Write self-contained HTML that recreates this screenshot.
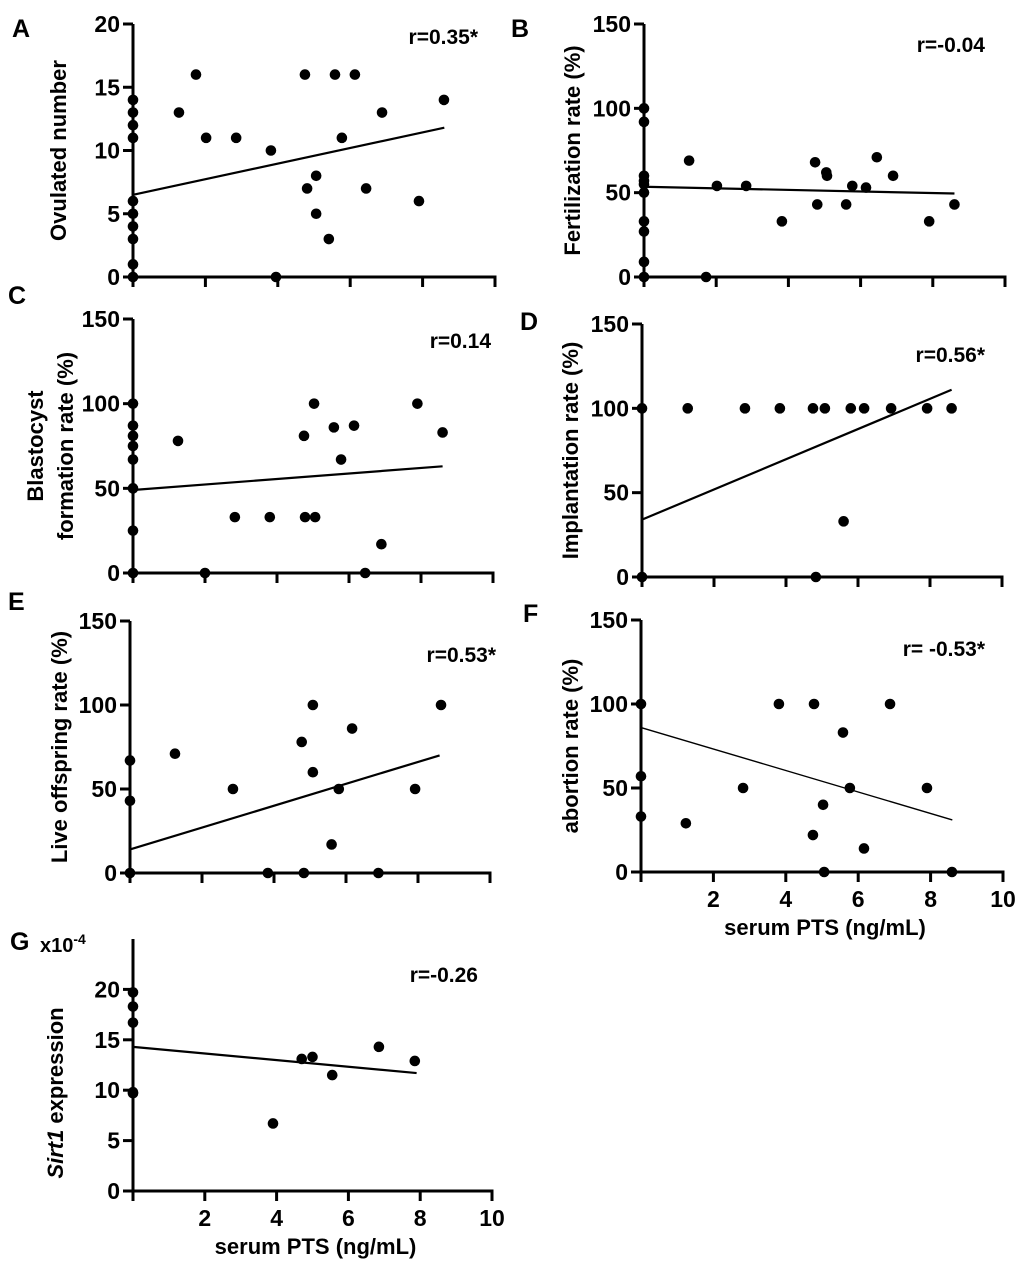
<!DOCTYPE html>
<html><head><meta charset="utf-8"><style>
html,body{margin:0;padding:0;background:#fff;}
svg{display:block;font-family:"Liberation Sans",Arial,sans-serif;font-weight:bold;}
</style></head><body>
<svg id="fig" width="1020" height="1265" viewBox="0 0 1020 1265"></svg>
<script>
// Panel A
const aX=[0,0,0,0,0,0,0,0,0,0,1.27,1.74,2.02,2.85,3.81,3.95,4.75,4.81,5.06,5.06,5.41,5.58,5.77,6.13,6.44,6.88,7.9,8.59];
const aY=[14,13,12,11,6,5,4,3,1,0,13,16,11,11,10,0,16,7,8,5,3,16,11,16,7,13,6,14];
const aFit=[0,6.5,8.6,11.8];
const aTicks=[0,5,10,15,20];
// Panel B
const bX=[0,0,0,0,0,0,0,0,0,0,1.25,1.72,2.02,2.83,3.82,4.74,4.8,5.05,5.07,5.6,5.77,6.15,6.45,6.9,7.9,8.6];
const bY=[100,92,60,57,55,50,33,27,9,0,69,0,54,54,33,68,43,62,60,43,54,53,71,60,33,43];
const bFit=[0,53.5,8.6,49.5];
const pctTicks=[0,50,100,150];
// Panel C
const cX=[0,0,0,0,0,0,0,0,1.25,2.0,2.83,3.8,4.75,4.78,5.03,5.06,5.58,5.78,6.14,6.45,6.9,7.9,8.6];
const cY=[100,87,81,75,67,50,25,0,78,0,33,33,81,33,100,33,86,67,87,0,17,100,83];
const cFit=[0,49,8.6,63];
// Panel D
const dX=[0,0,1.27,2.86,3.83,4.75,5.08,5.8,6.17,6.92,7.92,8.6,4.83,5.6];
const dY=[100,0,100,100,100,100,100,100,100,100,100,100,0,33];
const dFit=[0,34,8.6,111];
// Panel E
const eX=[0,0,0,1.25,2.86,3.83,4.77,4.83,5.08,5.08,5.6,5.8,6.17,6.9,7.92,8.64];
const eY=[67,43,0,71,50,0,78,0,100,60,17,50,86,0,50,100];
const eFit=[0,14,8.6,70];
// Panel F
const fX=[0,0,0,1.24,2.82,3.81,4.78,4.75,5.03,5.06,5.58,5.77,6.16,6.88,7.9,8.59];
const fY=[100,57,33,29,50,100,100,22,40,0,83,50,14,100,50,0];
const fFit=[0,86,8.6,31];
// Panel G
const gX=[0,0,0,0,0,3.9,4.7,5.0,5.55,6.85,7.85];
const gY=[19.7,18.3,16.7,9.8,9.7,6.7,13.1,13.3,11.5,14.3,12.9];
const gFit=[0,14.3,7.9,11.7];
const gTicks=[0,5,10,15,20];
const xTickVals=[0,2,4,6,8,10];
const xTickLabels=["","2","4","6","8","10"];

const NS="http://www.w3.org/2000/svg";
const svg=document.getElementById('fig');
function mk(tag,attrs,parent){const e=document.createElementNS(NS,tag);for(const k in attrs)e.setAttribute(k,attrs[k]);(parent||svg).appendChild(e);return e;}

function panel(p){
  const g=mk('g',{});
  
  
  const sx=v=>p.x0+(v/10)*(p.x10-p.x0);
  const sy=v=>p.y0-(v/p.ymax)*(p.y0-p.ytop);
  const lt=mk('text',{x:p.lx,y:p.ly,'font-size':25},g);lt.textContent=p.id;
  
  
  const ya=mk('line',{x1:p.x0,y1:p.ytop,x2:p.x0,y2:p.y0+9,stroke:'#000','stroke-width':3},g);
  
  
  const xa=mk('line',{x1:p.x0,y1:p.y0,x2:sx(10)+1.5,y2:p.y0,stroke:'#000','stroke-width':3},g);
  
  
  p.yt.forEach(v=>{
    mk('line',{x1:p.x0-10,y1:sy(v),x2:p.x0,y2:sy(v),stroke:'#000','stroke-width':3},g);
    const t=mk('text',{x:p.x0-13,y:sy(v)+8,'font-size':23,'text-anchor':'end'},g);t.textContent=v;
    
    
  });
  xTickVals.forEach((v,i)=>{
    mk('line',{x1:sx(v),y1:p.y0,x2:sx(v),y2:p.y0+10,stroke:'#000','stroke-width':3},g);
    if(p.xlabels){const t=mk('text',{x:sx(v),y:p.y0+35,'font-size':23,'text-anchor':'middle'},g);t.textContent=xTickLabels[i];
      
      }
  });
  if(p.xlabels){const t=mk('text',{x:(p.x0+sx(10))/2+3,y:p.y0+63,'font-size':22,'text-anchor':'middle'},g);t.textContent='serum PTS (ng/mL)';
    
    }
  p.ytitle.forEach((s,i)=>{
    const cx=p.ytx+i*30, cy=(p.ytop+p.y0)/2+p.ytoff;
    const t=mk('text',{x:cx,y:cy,'font-size':22,'text-anchor':'middle',transform:`rotate(-90 ${cx} ${cy})`},g);
    if(p.italic){const ts=mk('tspan',{'font-style':'italic'},t);ts.textContent='Sirt1';const t2=mk('tspan',{},t);t2.textContent=' expression';}
    else t.textContent=s;
    
    
  });
  const fl=mk('line',{x1:sx(p.fit[0]),y1:sy(p.fit[1]),x2:sx(p.fit[2]),y2:sy(p.fit[3]),stroke:'#000','stroke-width':p.fw},g);
  
  
  p.xs.forEach((x,i)=>{
    const c=mk('circle',{cx:sx(x),cy:sy(p.ys[i]),r:5.3,fill:'#000'},g);
    
    
  });
  const r=mk('text',{x:p.rx,y:p.ry,'font-size':21,'text-anchor':'end'},g);r.textContent=p.r;
  
  
  if(p.exp){const e=mk('text',{x:40,y:952,'font-size':20},g);e.textContent='x10';const s=mk('tspan',{dy:-8,'font-size':14},e);s.textContent='-4';
    
    }
}

panel({id:'A',lx:12,ly:37,x0:133,x10:495,y0:277,ytop:24,ymax:20,yt:aTicks,xs:aX,ys:aY,fit:aFit,fw:2.2,r:'r=0.35*',rx:478,ry:44,ytitle:['Ovulated number'],ytx:66,ytoff:0});
panel({id:'B',lx:511,ly:37,x0:644,x10:1005,y0:277,ytop:24,ymax:150,yt:pctTicks,xs:bX,ys:bY,fit:bFit,fw:2.2,r:'r=-0.04',rx:985,ry:52,ytitle:['Fertilization rate (%)'],ytx:580,ytoff:0});
panel({id:'C',lx:8,ly:304,x0:133,x10:493,y0:573,ytop:319,ymax:150,yt:pctTicks,xs:cX,ys:cY,fit:cFit,fw:2.2,r:'r=0.14',rx:491,ry:348,ytitle:['Blastocyst','formation rate (%)'],ytx:43,ytoff:0});
panel({id:'D',lx:520,ly:330,x0:642,x10:1002,y0:577,ytop:324,ymax:150,yt:pctTicks,xs:dX,ys:dY,fit:dFit,fw:2.2,r:'r=0.56*',rx:985,ry:362,ytitle:['Implantation rate (%)'],ytx:578,ytoff:0});
panel({id:'E',lx:8,ly:610,x0:130,x10:490,y0:873,ytop:621,ymax:150,yt:pctTicks,xs:eX,ys:eY,fit:eFit,fw:2.2,r:'r=0.53*',rx:496,ry:662,ytitle:['Live offspring rate (%)'],ytx:67,ytoff:0});
panel({id:'F',lx:523,ly:622,x0:641,x10:1003,y0:872,ytop:620,ymax:150,yt:pctTicks,xs:fX,ys:fY,fit:fFit,fw:1.4,r:'r= -0.53*',rx:985,ry:656,ytitle:['abortion rate (%)'],ytx:578,ytoff:0,xlabels:true});
panel({id:'G',lx:10,ly:950,x0:133,x10:492,y0:1191,ytop:939,ymax:25,yt:gTicks,xs:gX,ys:gY,fit:gFit,fw:2.2,r:'r=-0.26',rx:478,ry:982,ytitle:['Sirt1 expression'],ytx:63,ytoff:28,italic:true,xlabels:true,exp:true});
</script>
</body></html>
